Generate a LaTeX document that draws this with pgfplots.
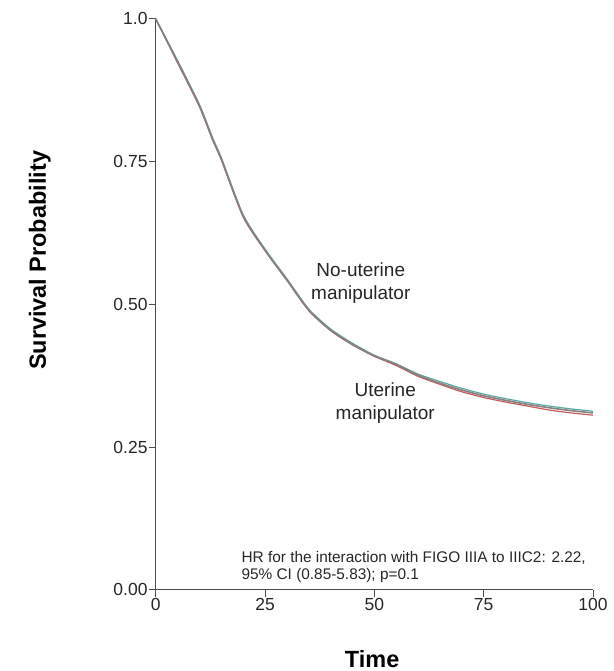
\documentclass[border=0pt]{standalone}
\usepackage{pgfplots}
\pgfplotsset{compat=1.18}
\usepackage{fontspec}
\setmainfont{Liberation Sans}

\definecolor{kmgray}{RGB}{130,130,130}
\definecolor{kmred}{RGB}{200,90,90}
\definecolor{kmteal}{RGB}{95,170,160}

\begin{document}
\begin{tikzpicture}
\begin{axis}[
    scale only axis,
    width=438pt, height=572pt,
    xmin=0, xmax=100, ymin=0, ymax=1,
    axis lines=left,
    axis line style={-, draw=black!70, line width=1pt},
    tick style={draw=black!70, line width=1pt},
    tick align=outside,
    major tick length=7pt,
    xtick={0,25,50,75,100},
    ytick={0,0.25,0.5,0.75,1},
    yticklabels={0.00,0.25,0.50,0.75,1.0},
    /pgf/number format/assume math mode=true,
    ticklabel style={font=\fontsize{17.5}{20}\selectfont, text=black!85},
    yticklabel style={inner xsep=1pt},
    xticklabel style={inner ysep=1pt},
    xlabel={\textbf{Time}},
    ylabel={\textbf{Survival Probability}},
    label style={font=\fontsize{23.5}{27}\selectfont},
    xlabel style={at={(axis description cs:0.495,-0.121)}, anchor=center},
    ylabel style={at={(axis description cs:-0.265,0.577)}, anchor=center},
    clip=false,
]
\addplot[kmteal, line width=1.2pt, smooth, tension=0.4] coordinates {
    (0,1.0) (5,0.927) (10,0.850) (13,0.792) (15,0.757) (20,0.657) (25,0.597)
    (30,0.545) (35,0.492) (40,0.457) (45,0.432) (50,0.411) (55,0.396) (60,0.378)
    (65,0.365) (70,0.353) (75,0.343) (80,0.335) (85,0.328) (90,0.322) (95,0.317) (100,0.313)
};
\addplot[kmred, line width=1.2pt, smooth, tension=0.4] coordinates {
    (0,1.0) (5,0.923) (10,0.846) (13,0.788) (15,0.753) (20,0.653) (25,0.594)
    (30,0.542) (35,0.489) (40,0.454) (45,0.429) (50,0.409) (55,0.393) (60,0.374)
    (65,0.360) (70,0.347) (75,0.337) (80,0.329) (85,0.322) (90,0.315) (95,0.310) (100,0.306)
};
\addplot[kmgray, line width=1.6pt, smooth, tension=0.4] coordinates {
    (0,1.0) (5,0.925) (10,0.848) (13,0.790) (15,0.755) (20,0.655) (25,0.595)
    (30,0.543) (35,0.490) (40,0.455) (45,0.430) (50,0.410) (55,0.395) (60,0.376)
    (65,0.362) (70,0.350) (75,0.340) (80,0.332) (85,0.325) (90,0.319) (95,0.314) (100,0.310)
};
\node[align=center, font=\fontsize{19}{23}\selectfont, text=black!85] at (axis cs:46.9,0.538) {No-uterine\\manipulator};
\node[align=center, font=\fontsize{19}{23}\selectfont, text=black!85] at (axis cs:52.5,0.327) {Uterine\\manipulator};
\node[align=left, anchor=west, inner xsep=0pt, font=\fontsize{15.4}{17.5}\selectfont, text=black!85] at (axis cs:19.6,0.040)
    {HR for the interaction with FIGO IIIA to IIIC2: 2.22,\\95\% CI (0.85-5.83); p=0.1};
\path (axis description cs:-0.356,-0.14) rectangle (axis description cs:1.048,1.033);
\end{axis}
\end{tikzpicture}
\end{document}
